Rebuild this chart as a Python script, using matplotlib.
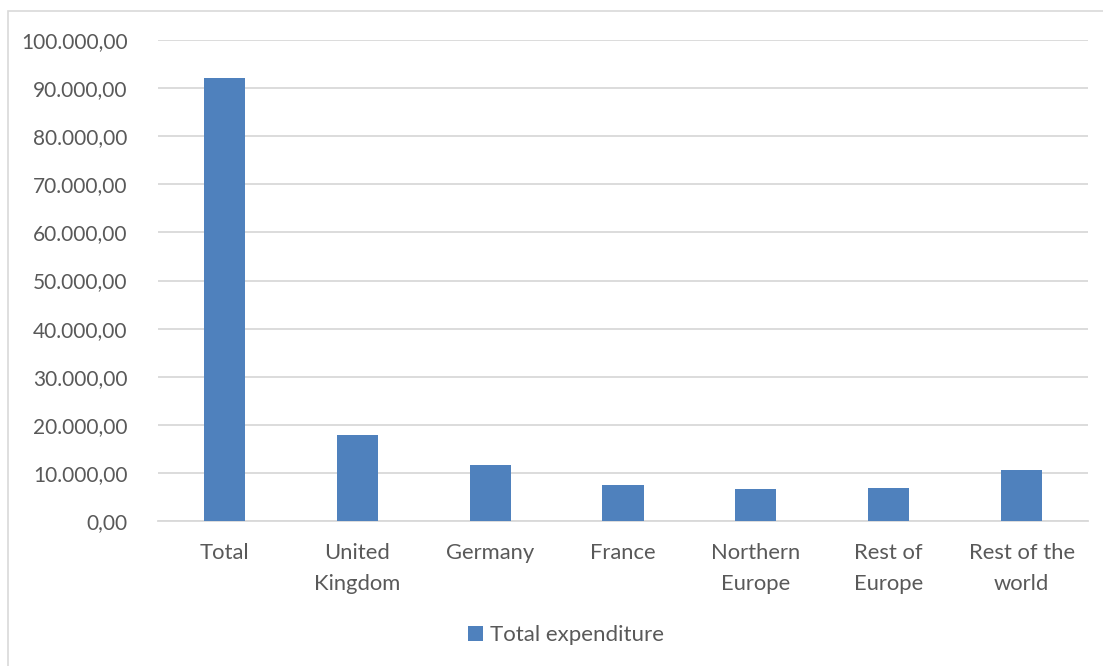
import matplotlib
matplotlib.use("Agg")
import matplotlib.pyplot as plt
from matplotlib.patches import Rectangle
from matplotlib.ticker import FuncFormatter

categories = ["Total", "United\nKingdom", "Germany", "France",
              "Northern\nEurope", "Rest of\nEurope", "Rest of the\nworld"]
expenditure = [92200, 17800, 11600, 7450, 6650, 6800, 10700]
series_name = "Total expenditure"
y_ticks = list(range(0, 100001, 10000))

plt.rcParams['font.family'] = ['Lato', 'DejaVu Sans']
text_col = "#595959"

fig = plt.figure(figsize=(11.03, 6.66), dpi=100)
W, H = 1103, 666
ax = fig.add_axes([158 / W, 1 - 521 / H, (1088 - 158) / W, (521 - 40) / H])

# light chart-area frame
fig.patches.append(Rectangle((8 / W, -0.05), 1.1, 1 - 11 / H + 0.05,
                             transform=fig.transFigure, fill=False,
                             edgecolor="#D9D9D9", linewidth=1.2))

x = list(range(len(categories)))
ax.bar(x, expenditure, width=0.31, color="#4F81BD", label=series_name, zorder=3)

ax.set_xlim(-0.5, len(categories) - 0.5)
ax.set_ylim(0, 100000)
ax.set_yticks(y_ticks)

def fmt(v, pos):
    s = "{:,.2f}".format(v)
    return s.replace(",", "X").replace(".", ",").replace("X", ".")

ax.yaxis.set_major_formatter(FuncFormatter(fmt))
ax.set_xticks(x)
ax.set_xticklabels(categories, linespacing=1.65)
ax.tick_params(axis="both", length=0, colors=text_col)
ax.tick_params(axis="y", pad=22, labelsize=15)
ax.tick_params(axis="x", pad=16, labelsize=15.8)
for lbl in ax.get_xticklabels() + ax.get_yticklabels():
    lbl.set_color(text_col)

ax.grid(axis="y", color="#D9D9D9", linewidth=1.3, zorder=0)
for side in ["top", "right", "left"]:
    ax.spines[side].set_visible(False)
ax.spines["bottom"].set_color("#D9D9D9")
ax.spines["bottom"].set_linewidth(1.3)

leg = fig.legend(loc="center", bbox_to_anchor=(566 / W, 1 - 635 / H),
                 frameon=False, fontsize=16, handlelength=0.65, handleheight=0.65,
                 handletextpad=0.3)
for t in leg.get_texts():
    t.set_color(text_col)

fig.savefig("out.png", dpi=100)
